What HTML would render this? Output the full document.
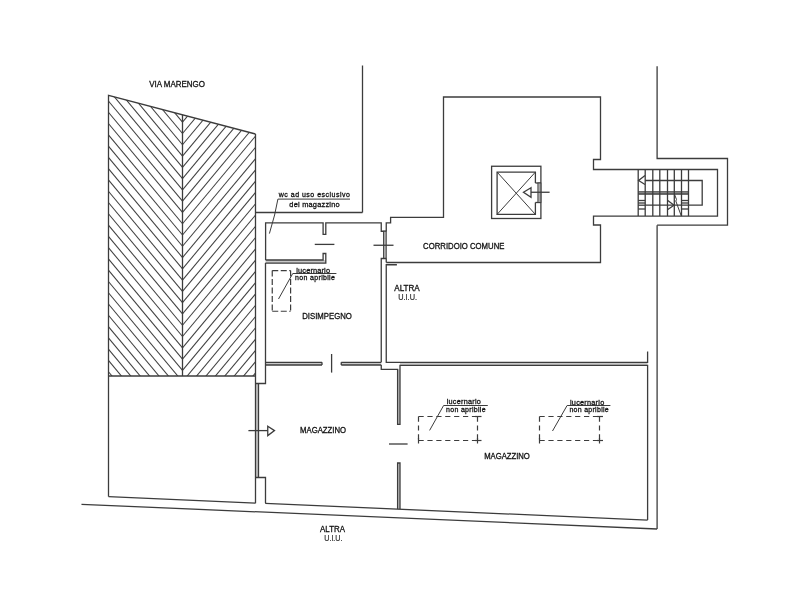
<!DOCTYPE html>
<html><head><meta charset="utf-8"><style>
html,body{margin:0;padding:0;background:#fff;}
svg{display:block;filter:grayscale(1);}
line,polyline,polygon,rect{stroke:#3c3c3c;stroke-width:1.3;fill:none;}
.h line{stroke-width:1.05;stroke:#404040;}
.thin{stroke-width:1.0;}
.gd{fill:#aaa;stroke-width:0.9;}
.wf{fill:#c8c8c8;stroke:none;}
.dash line{stroke-dasharray:5.2 3.7;stroke-width:1.2;}
.dash .d2 line{stroke-dasharray:6 2.5;}
.dash line.sol{stroke-dasharray:none;}
text{font-family:"Liberation Sans",sans-serif;fill:#111;stroke:#111;stroke-width:0.3;}
text.s{fill:#222;}
text.u{fill:#222;stroke:#333;stroke-width:0.2;}
</style></head><body>
<svg width="800" height="600" viewBox="0 0 800 600">
<defs><clipPath id="cl"><polygon points="108.5,95.3 182.5,114.78163265306122 182.5,376.0 108.5,376.0"/></clipPath><clipPath id="cr"><polygon points="182.5,114.78163265306122 255.5,134.0 255.5,376.0 182.5,376.0"/></clipPath></defs>
<rect x="0" y="0" width="800" height="600" style="fill:#fff;stroke:none"/>
<rect x="400.0" y="362.35" width="247.50" height="3.05" class="wf"/>
<rect x="265.5" y="362.35" width="56.50" height="2.65" class="wf"/>
<rect x="341.25" y="362.35" width="40.00" height="2.65" class="wf"/>
<rect x="397.6" y="369.4" width="2.40" height="55.00" class="wf"/>
<rect x="397.6" y="463.0" width="2.40" height="46.00" class="wf"/>
<rect x="255.5" y="383.5" width="3.00" height="94.00" class="wf"/>
<rect x="265.6" y="260.0" width="60.20" height="3.10" class="wf"/>
<rect x="638.2" y="191.8" width="50.30" height="2.20" class="wf"/>
<g clip-path="url(#cl)" class="h"><line x1="182.5" y1="-13.16" x2="62.5" y2="-157.16"/><line x1="182.5" y1="-1.88" x2="62.5" y2="-145.88"/><line x1="182.5" y1="9.40" x2="62.5" y2="-134.60"/><line x1="182.5" y1="20.68" x2="62.5" y2="-123.32"/><line x1="182.5" y1="31.96" x2="62.5" y2="-112.04"/><line x1="182.5" y1="43.24" x2="62.5" y2="-100.76"/><line x1="182.5" y1="54.52" x2="62.5" y2="-89.48"/><line x1="182.5" y1="65.80" x2="62.5" y2="-78.20"/><line x1="182.5" y1="77.08" x2="62.5" y2="-66.92"/><line x1="182.5" y1="88.36" x2="62.5" y2="-55.64"/><line x1="182.5" y1="99.64" x2="62.5" y2="-44.36"/><line x1="182.5" y1="110.92" x2="62.5" y2="-33.08"/><line x1="182.5" y1="122.20" x2="62.5" y2="-21.80"/><line x1="182.5" y1="133.48" x2="62.5" y2="-10.52"/><line x1="182.5" y1="144.76" x2="62.5" y2="0.76"/><line x1="182.5" y1="156.04" x2="62.5" y2="12.04"/><line x1="182.5" y1="167.32" x2="62.5" y2="23.32"/><line x1="182.5" y1="178.60" x2="62.5" y2="34.60"/><line x1="182.5" y1="189.88" x2="62.5" y2="45.88"/><line x1="182.5" y1="201.16" x2="62.5" y2="57.16"/><line x1="182.5" y1="212.44" x2="62.5" y2="68.44"/><line x1="182.5" y1="223.72" x2="62.5" y2="79.72"/><line x1="182.5" y1="235.00" x2="62.5" y2="91.00"/><line x1="182.5" y1="246.28" x2="62.5" y2="102.28"/><line x1="182.5" y1="257.56" x2="62.5" y2="113.56"/><line x1="182.5" y1="268.84" x2="62.5" y2="124.84"/><line x1="182.5" y1="280.12" x2="62.5" y2="136.12"/><line x1="182.5" y1="291.40" x2="62.5" y2="147.40"/><line x1="182.5" y1="302.68" x2="62.5" y2="158.68"/><line x1="182.5" y1="313.96" x2="62.5" y2="169.96"/><line x1="182.5" y1="325.24" x2="62.5" y2="181.24"/><line x1="182.5" y1="336.52" x2="62.5" y2="192.52"/><line x1="182.5" y1="347.80" x2="62.5" y2="203.80"/><line x1="182.5" y1="359.08" x2="62.5" y2="215.08"/><line x1="182.5" y1="370.36" x2="62.5" y2="226.36"/><line x1="182.5" y1="381.64" x2="62.5" y2="237.64"/><line x1="182.5" y1="392.92" x2="62.5" y2="248.92"/><line x1="182.5" y1="404.20" x2="62.5" y2="260.20"/><line x1="182.5" y1="415.48" x2="62.5" y2="271.48"/><line x1="182.5" y1="426.76" x2="62.5" y2="282.76"/><line x1="182.5" y1="438.04" x2="62.5" y2="294.04"/><line x1="182.5" y1="449.32" x2="62.5" y2="305.32"/><line x1="182.5" y1="460.60" x2="62.5" y2="316.60"/><line x1="182.5" y1="471.88" x2="62.5" y2="327.88"/><line x1="182.5" y1="483.16" x2="62.5" y2="339.16"/><line x1="182.5" y1="494.44" x2="62.5" y2="350.44"/><line x1="182.5" y1="505.72" x2="62.5" y2="361.72"/><line x1="182.5" y1="517.00" x2="62.5" y2="373.00"/><line x1="182.5" y1="528.28" x2="62.5" y2="384.28"/><line x1="182.5" y1="539.56" x2="62.5" y2="395.56"/><line x1="182.5" y1="550.84" x2="62.5" y2="406.84"/><line x1="182.5" y1="562.12" x2="62.5" y2="418.12"/></g>
<g clip-path="url(#cr)" class="h"><line x1="182.5" y1="-13.16" x2="302.5" y2="-157.16"/><line x1="182.5" y1="-1.88" x2="302.5" y2="-145.88"/><line x1="182.5" y1="9.40" x2="302.5" y2="-134.60"/><line x1="182.5" y1="20.68" x2="302.5" y2="-123.32"/><line x1="182.5" y1="31.96" x2="302.5" y2="-112.04"/><line x1="182.5" y1="43.24" x2="302.5" y2="-100.76"/><line x1="182.5" y1="54.52" x2="302.5" y2="-89.48"/><line x1="182.5" y1="65.80" x2="302.5" y2="-78.20"/><line x1="182.5" y1="77.08" x2="302.5" y2="-66.92"/><line x1="182.5" y1="88.36" x2="302.5" y2="-55.64"/><line x1="182.5" y1="99.64" x2="302.5" y2="-44.36"/><line x1="182.5" y1="110.92" x2="302.5" y2="-33.08"/><line x1="182.5" y1="122.20" x2="302.5" y2="-21.80"/><line x1="182.5" y1="133.48" x2="302.5" y2="-10.52"/><line x1="182.5" y1="144.76" x2="302.5" y2="0.76"/><line x1="182.5" y1="156.04" x2="302.5" y2="12.04"/><line x1="182.5" y1="167.32" x2="302.5" y2="23.32"/><line x1="182.5" y1="178.60" x2="302.5" y2="34.60"/><line x1="182.5" y1="189.88" x2="302.5" y2="45.88"/><line x1="182.5" y1="201.16" x2="302.5" y2="57.16"/><line x1="182.5" y1="212.44" x2="302.5" y2="68.44"/><line x1="182.5" y1="223.72" x2="302.5" y2="79.72"/><line x1="182.5" y1="235.00" x2="302.5" y2="91.00"/><line x1="182.5" y1="246.28" x2="302.5" y2="102.28"/><line x1="182.5" y1="257.56" x2="302.5" y2="113.56"/><line x1="182.5" y1="268.84" x2="302.5" y2="124.84"/><line x1="182.5" y1="280.12" x2="302.5" y2="136.12"/><line x1="182.5" y1="291.40" x2="302.5" y2="147.40"/><line x1="182.5" y1="302.68" x2="302.5" y2="158.68"/><line x1="182.5" y1="313.96" x2="302.5" y2="169.96"/><line x1="182.5" y1="325.24" x2="302.5" y2="181.24"/><line x1="182.5" y1="336.52" x2="302.5" y2="192.52"/><line x1="182.5" y1="347.80" x2="302.5" y2="203.80"/><line x1="182.5" y1="359.08" x2="302.5" y2="215.08"/><line x1="182.5" y1="370.36" x2="302.5" y2="226.36"/><line x1="182.5" y1="381.64" x2="302.5" y2="237.64"/><line x1="182.5" y1="392.92" x2="302.5" y2="248.92"/><line x1="182.5" y1="404.20" x2="302.5" y2="260.20"/><line x1="182.5" y1="415.48" x2="302.5" y2="271.48"/><line x1="182.5" y1="426.76" x2="302.5" y2="282.76"/><line x1="182.5" y1="438.04" x2="302.5" y2="294.04"/><line x1="182.5" y1="449.32" x2="302.5" y2="305.32"/><line x1="182.5" y1="460.60" x2="302.5" y2="316.60"/><line x1="182.5" y1="471.88" x2="302.5" y2="327.88"/><line x1="182.5" y1="483.16" x2="302.5" y2="339.16"/><line x1="182.5" y1="494.44" x2="302.5" y2="350.44"/><line x1="182.5" y1="505.72" x2="302.5" y2="361.72"/><line x1="182.5" y1="517.00" x2="302.5" y2="373.00"/><line x1="182.5" y1="528.28" x2="302.5" y2="384.28"/><line x1="182.5" y1="539.56" x2="302.5" y2="395.56"/><line x1="182.5" y1="550.84" x2="302.5" y2="406.84"/><line x1="182.5" y1="562.12" x2="302.5" y2="418.12"/></g>
<polyline points="108.5,376.0 108.5,95.3 255.5,134.0"/>
<line x1="182.5" y1="114.78163265306122" x2="182.5" y2="376.0"/>
<line x1="108.5" y1="376.0" x2="255.5" y2="376.0"/>
<line x1="108.5" y1="376.0" x2="108.5" y2="496.6"/>
<line x1="108.5" y1="496.6" x2="255.5" y2="503.2"/>
<line x1="362.5" y1="65.5" x2="362.5" y2="212.5"/>
<line x1="255.5" y1="212.5" x2="362.5" y2="212.5"/>
<line x1="255.5" y1="134" x2="255.5" y2="503.2"/>
<polyline points="255.5,383.5 265.5,383.5 265.5,263.1"/>
<line x1="258.5" y1="383.5" x2="258.5" y2="477.5"/>
<polyline points="255.5,477.5 265.5,477.5 265.5,503.0"/>
<polyline points="265.6,260.0 265.6,222.9 323.1,222.9 323.1,234.4 325.8,234.4 325.8,222.9 381.25,222.9 381.25,231.25 386.25,231.25"/>
<polyline points="265.6,260.0 323.1,260.0 323.1,253.5 325.8,253.5 325.8,263.1 265.4,263.1"/>
<line x1="314.75" y1="244.4" x2="334.4" y2="244.4"/>
<rect x="383.5" y="231.25" width="2.75" height="27.25" class="gd"/>
<line x1="373.5" y1="245.25" x2="393.5" y2="245.25"/>
<polyline points="386.25,258.5 381.25,258.5 381.25,362.35"/>
<polyline points="386.25,231.25 386.25,222.9 390.6,222.9 390.6,217.3 443.5,217.3 443.5,97.0 600.5,97.0 600.5,159.5 593.5,159.5 593.5,169.5 717.5,169.5 717.5,216.1 593.5,216.1 593.5,225.0 600.5,225.0 600.5,262.5 386.25,262.5"/>
<polyline points="386.25,258.5 386.25,262.5"/>
<polyline points="396.9,264.75 386.25,264.75 386.25,362.35 647.6,362.35 647.6,351.6"/>
<line x1="265.4" y1="362.35" x2="322.0" y2="362.35"/>
<line x1="341.25" y1="362.35" x2="381.25" y2="362.35"/>
<line x1="265.4" y1="365.0" x2="322.0" y2="365.0"/>
<line x1="341.25" y1="365.0" x2="381.25" y2="365.0"/>
<polyline points="322.0,362.35 322.0,365.0"/>
<polyline points="341.25,362.35 341.25,365.0"/>
<line x1="331.6" y1="354.0" x2="331.6" y2="372.6"/>
<polyline points="381.25,365.0 381.25,369.4 397.6,369.4 397.6,424.4 400.0,424.4 400.0,365.4 647.6,365.4 647.6,519.9"/>
<polyline points="397.6,509.0 397.6,463.0 400.0,463.0 400.0,509.0"/>
<line x1="389.0" y1="444.0" x2="407.6" y2="444.0"/>
<line x1="265.2" y1="503.3" x2="647.6" y2="520.1"/>
<line x1="81.5" y1="504.3" x2="657.1" y2="529.0"/>
<line x1="657.1" y1="225.2" x2="657.1" y2="529.0"/>
<polyline points="657.1,66.25 657.1,158.5 727.5,158.5 727.5,225.2 657.1,225.2"/>
<line x1="248.4" y1="430.6" x2="267.75" y2="430.6"/>
<polygon points="267.75,426.25 274.5,430.6 267.75,435.6"/>
<rect x="491.6" y="166.25" width="49.3" height="52.25"/>
<polyline points="535.4,183.0 535.4,172.1 497.1,172.1 497.1,214.4 535.4,214.4 535.4,202.5"/>
<line x1="535.4" y1="183.0" x2="540.9" y2="183.0"/>
<line x1="535.4" y1="202.5" x2="540.9" y2="202.5"/>
<rect x="537.9" y="183" width="3" height="19.5" class="gd"/>
<line x1="497.1" y1="172.1" x2="535.4" y2="214.4" class="thin"/>
<line x1="535.4" y1="172.1" x2="497.1" y2="214.4" class="thin"/>
<polygon points="531,187.75 523.5,192.25 531,197.25"/>
<line x1="531" y1="192.25" x2="549.6" y2="192.25"/>
<line x1="638.2" y1="169.25" x2="638.2" y2="216.1"/>
<line x1="645.2" y1="169.25" x2="645.2" y2="216.1"/>
<line x1="652.8" y1="169.25" x2="652.8" y2="216.1"/>
<line x1="659.8" y1="169.25" x2="659.8" y2="216.1"/>
<line x1="667.5" y1="169.25" x2="667.5" y2="216.1"/>
<line x1="674.3" y1="169.25" x2="674.3" y2="216.1"/>
<line x1="681.5" y1="169.25" x2="681.5" y2="216.1"/>
<line x1="688.5" y1="169.25" x2="688.5" y2="216.1"/>
<line x1="638.2" y1="191.8" x2="688.5" y2="191.8"/>
<line x1="638.2" y1="194.0" x2="688.5" y2="194.0"/>
<polyline points="645.2,180.5 702.2,180.5 702.2,205.2 645.2,205.2"/>
<polyline points="645,175.5 638.6,180.5 645,184.5"/>
<line x1="638.2" y1="200.5" x2="645.2" y2="200.5"/>
<line x1="681.5" y1="200.5" x2="688.5" y2="200.5"/>
<line x1="638.2" y1="203.0" x2="645.2" y2="203.0"/>
<line x1="681.5" y1="203.0" x2="688.5" y2="203.0"/>
<line x1="638.2" y1="209.0" x2="645.2" y2="209.0"/>
<line x1="681.5" y1="209.0" x2="688.5" y2="209.0"/>
<line x1="638.2" y1="205.2" x2="645.2" y2="205.2"/>
<polyline points="667.8,200.5 674,205.2 667.8,209.5"/>
<polyline points="674.4,194.0 676.5,199.5 675.8,201 681.3,216.0" class="thin"/>
<g class="dash">
<g class="d2">
<line x1="272.25" y1="270.6" x2="290.6" y2="270.6"/>
<line x1="272.25" y1="311.25" x2="290.6" y2="311.25"/>
<line x1="272.25" y1="270.6" x2="272.25" y2="311.25"/>
<line x1="290.6" y1="270.6" x2="290.6" y2="311.25"/>
</g>
<line x1="418.5" y1="416.5" x2="477.5" y2="416.5"/>
<line x1="418.5" y1="440.5" x2="477.5" y2="440.5"/>
<line x1="418.5" y1="416.5" x2="418.5" y2="440.5"/>
<line x1="477.5" y1="416.5" x2="477.5" y2="440.5"/>
<line x1="475.0" y1="416.5" x2="481.5" y2="416.5" class="sol"/>
<line x1="475.0" y1="440.5" x2="481.5" y2="440.5" class="sol"/>
<line x1="418.5" y1="438.0" x2="418.5" y2="443.5" class="sol"/>
<line x1="477.5" y1="438.0" x2="477.5" y2="443.5" class="sol"/>
<line x1="539.5" y1="416.5" x2="599.5" y2="416.5"/>
<line x1="539.5" y1="440.5" x2="599.5" y2="440.5"/>
<line x1="539.5" y1="416.5" x2="539.5" y2="440.5"/>
<line x1="599.5" y1="416.5" x2="599.5" y2="440.5"/>
<line x1="597.0" y1="416.5" x2="603.0" y2="416.5" class="sol"/>
<line x1="597.0" y1="440.5" x2="603.0" y2="440.5" class="sol"/>
<line x1="539.5" y1="438.0" x2="539.5" y2="443.5" class="sol"/>
<line x1="599.5" y1="438.0" x2="599.5" y2="443.5" class="sol"/>
</g>
<polyline points="278.5,299 292.75,273.5 336.4,273.5" class="thin"/>
<polyline points="429.6,430.4 443.6,405.5 487.8,405.5" class="thin"/>
<polyline points="552.5,431 567.1,405.5 610.4,405.5" class="thin"/>
<polyline points="269.4,233.6 274.6,215 277.9,199.1 350,199.1" class="thin"/>
<g opacity="0.995">
<text x="149.2" y="87" font-size="8.9" class="t" textLength="55.8" lengthAdjust="spacingAndGlyphs">VIA MARENGO</text>
<text x="278.8" y="196.8" font-size="7.0" class="s" textLength="71.1" lengthAdjust="spacing">wc ad uso esclusivo</text>
<text x="289.3" y="206.6" font-size="7.4" class="s" textLength="50.4" lengthAdjust="spacing">del magazzino</text>
<text x="423.1" y="248.75" font-size="8.6" class="t" textLength="81.3" lengthAdjust="spacingAndGlyphs">CORRIDOIO COMUNE</text>
<text x="394.25" y="290.5" font-size="8.6" class="t" textLength="25.5" lengthAdjust="spacingAndGlyphs">ALTRA</text>
<text x="398.25" y="299.5" font-size="8.6" class="u" textLength="18.75" lengthAdjust="spacingAndGlyphs">U.I.U.</text>
<text x="302.2" y="319.4" font-size="8.6" class="t" textLength="49.7" lengthAdjust="spacingAndGlyphs">DISIMPEGNO</text>
<text x="300.1" y="432.5" font-size="8.3" class="t" textLength="45.9" lengthAdjust="spacingAndGlyphs">MAGAZZINO</text>
<text x="484.15" y="458.5" font-size="8.3" class="t" textLength="45.65" lengthAdjust="spacingAndGlyphs">MAGAZZINO</text>
<text x="320.1" y="531.5" font-size="8.6" class="t" textLength="24.9" lengthAdjust="spacingAndGlyphs">ALTRA</text>
<text x="324.25" y="540.75" font-size="8.6" class="u" textLength="18.25" lengthAdjust="spacingAndGlyphs">U.I.U.</text>
<text x="296.25" y="272.5" font-size="7.4" class="s" textLength="33.75" lengthAdjust="spacing">lucernario</text>
<text x="295.1" y="280" font-size="7.0" class="s" textLength="39.8" lengthAdjust="spacing">non apribile</text>
<text x="446.7" y="404.2" font-size="7.3" class="s" textLength="34.1" lengthAdjust="spacing">lucernario</text>
<text x="446.1" y="411.6" font-size="7.0" class="s" textLength="39.5" lengthAdjust="spacing">non apribile</text>
<text x="570" y="404.6" font-size="7.3" class="s" textLength="34.2" lengthAdjust="spacing">lucernario</text>
<text x="569.4" y="411.9" font-size="7.0" class="s" textLength="39.3" lengthAdjust="spacing">non apribile</text>
</g>
</svg>
</body></html>
